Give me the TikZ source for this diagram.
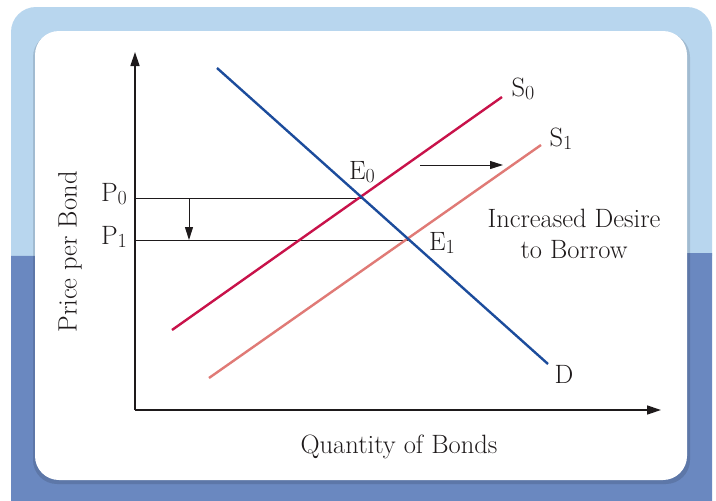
\documentclass[tikz,border=0pt]{standalone}
\usetikzlibrary{arrows.meta}
\definecolor{bglight}{HTML}{B8D6EE}
\definecolor{bgdark}{HTML}{6A88C0}
\definecolor{dblue}{HTML}{1C4C9C}
\definecolor{szero}{HTML}{C8124A}
\definecolor{sone}{HTML}{E07A76}
\definecolor{ink}{HTML}{1E1A1B}
\newcommand{\mysub}[1]{\raisebox{-0.3ex}{\fontsize{20}{20}\selectfont #1}}
\tikzset{
  axis/.style={draw=ink, line width=1.4pt, -{Triangle[length=14pt,width=9pt]}},
  guide/.style={draw=ink, line width=0.9pt},
  curve/.style={line width=2.4pt},
  shiftarrow/.style={draw=ink, line width=1pt, -{Triangle[length=13pt,width=8pt]}},
  lbl/.style={text=ink, font=\fontsize{26.5}{30}\selectfont, inner sep=0pt},
}
\begin{document}
\begin{tikzpicture}[x=1pt,y=-1pt]
\useasboundingbox (0,0) rectangle (716,501);
\fill[white] (0,0) rectangle (716,501);
% background frame
\begin{scope}
\clip[rounded corners=25pt] (11,7) rectangle (712,560);
\fill[bglight] (0,0) rectangle (716,256);
\fill[bgdark] (0,256) -- (716,253) -- (716,501) -- (0,501) -- cycle;
\end{scope}
% card shadow and card
\fill[black,opacity=0.12,rounded corners=24pt] (33,33) rectangle (690,484);
\fill[white,rounded corners=24pt] (35,31) rectangle (687,480);
% coordinates
\coordinate (O) at (135,410);
\coordinate (ytip) at (135,52);
\coordinate (xtip) at (661,410);
\coordinate (Dtop) at (217,68);
\coordinate (Dbot) at (548,364);
\coordinate (S0a) at (172,330);
\coordinate (S0b) at (502,97);
\coordinate (S1a) at (209,378);
\coordinate (S1b) at (541,145);
\coordinate (E0) at (361.5,198);
\coordinate (E1) at (408,240);
\coordinate (P0) at (135,198);
\coordinate (P1) at (135,240);
\coordinate (da) at (189,198);
\coordinate (db) at (189,240);
\coordinate (ra) at (420,165);
\coordinate (rb) at (503,165);
% axes
\draw[axis] (O) -- (ytip);
\draw[axis] (O) -- (xtip);
% guides
\draw[guide] (P0) -- (E0);
\draw[guide] (P1) -- (E1);
\draw[shiftarrow] (da) -- (db);
\draw[shiftarrow] (ra) -- (rb);
% curves
\draw[curve, sone] (S1a) -- (S1b);
\draw[curve, szero] (S0a) -- (S0b);
\draw[curve, dblue] (Dtop) -- (Dbot);
% labels
\node[lbl] (lS0) at (523,89) {S\mysub{0}};
\node[lbl] (lS1) at (561,139) {S\mysub{1}};
\node[lbl] (lE0) at (362,172) {E\mysub{0}};
\node[lbl] (lE1) at (442,243) {E\mysub{1}};
\node[lbl] (lD) at (564,374) {D};
\node[lbl] (lP0) at (114,194) {P\mysub{0}};
\node[lbl] (lP1) at (114,237) {P\mysub{1}};
\node[lbl, align=center] (inc) at (574,234) {Increased Desire\\[1pt]to Borrow};
\node[lbl] (qb) at (399,447) {Quantity of Bonds};
\node[lbl, rotate=90] (pb) at (70,252) {Price per Bond};
\end{tikzpicture}
\end{document}
